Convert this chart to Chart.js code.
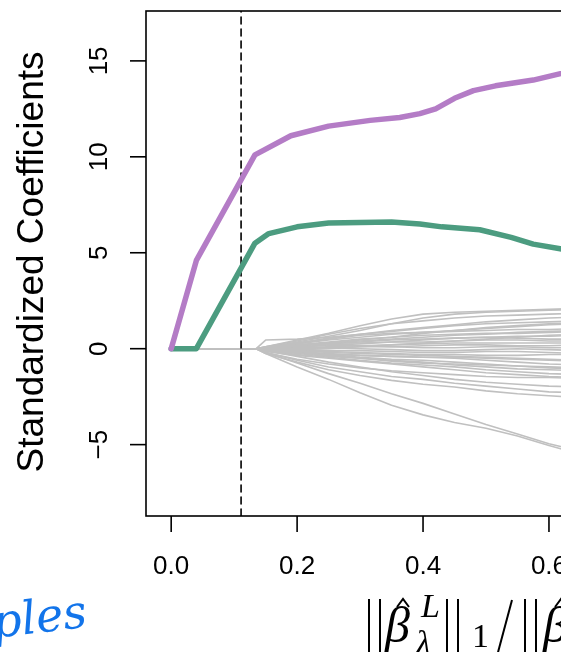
<!DOCTYPE html>
<html>
<head>
<meta charset="utf-8">
<script src="https://cdn.jsdelivr.net/npm/chart.js@4.4.1/dist/chart.umd.min.js"></script>
<style>
  html, body { margin: 0; padding: 0; background: #fff; }
  #wrap { position: relative; width: 561px; height: 652px; overflow: hidden; }
  #chart { position: absolute; left: 0; top: 0; }
</style>
</head>
<body>
<div id="wrap"><canvas id="chart" width="900" height="652"></canvas></div>
<script>
// x = ||beta_lambda||_1 / ||beta||_1
const xTicks = [0, 0.2, 0.4, 0.6, 0.8, 1.0];
const xTickLabels = ['0.0', '0.2', '0.4', '0.6', '0.8', '1.0'];
const yTicks = [-5, 0, 5, 10, 15];
const yTickLabels = ['\u22125', '0', '5', '10', '15'];
const cutoff = 0.111;

const purpleX = [0, 0.04, 0.133, 0.19, 0.25, 0.316, 0.363, 0.395, 0.42, 0.45, 0.48, 0.515, 0.575, 0.62, 0.66];
const purpleY = [0, 4.6, 10.1, 11.1, 11.6, 11.9, 12.05, 12.25, 12.5, 13.05, 13.45, 13.7, 14.0, 14.35, 14.7];

const greenX = [0, 0.04, 0.133, 0.155, 0.2, 0.25, 0.35, 0.395, 0.43, 0.49, 0.54, 0.575, 0.62, 0.66];
const greenY = [0, 0, 5.5, 6.0, 6.35, 6.55, 6.6, 6.5, 6.35, 6.2, 5.8, 5.45, 5.2, 5.0];

// the grey paths share the same knots
const grayX = [0, 0.135, 0.15, 0.2, 0.25, 0.3, 0.35, 0.4, 0.45, 0.5, 0.55, 0.6, 0.65];
const grayPaths = [
  [0, 0, 0.1, 0.45, 0.8, 1.2, 1.55, 1.8, 1.9, 1.95, 2.0, 2.05, 2.1],
  [0, 0, 0.05, 0.35, 0.65, 0.95, 1.3, 1.6, 1.8, 1.9, 1.95, 2.0, 2.05],
  [0, 0, 0.45, 0.5, 0.6, 0.75, 0.9, 1.05, 1.2, 1.3, 1.35, 1.4, 1.45],
  [0, 0, 0.05, 0.25, 0.45, 0.6, 0.75, 0.85, 0.95, 1.05, 1.15, 1.25, 1.3],
  [0, 0, 0.1, 0.3, 0.5, 0.7, 0.8, 0.85, 0.9, 0.95, 1.0, 1.0, 1.05],
  [0, 0, 0, 0.2, 0.35, 0.5, 0.6, 0.7, 0.75, 0.8, 0.8, 0.85, 0.9],
  [0, 0, 0.05, 0.15, 0.25, 0.35, 0.45, 0.5, 0.55, 0.6, 0.65, 0.65, 0.7],
  [0, 0, 0, 0.1, 0.2, 0.25, 0.35, 0.45, 0.55, 0.6, 0.55, 0.5, 0.5],
  [0, 0, 0.05, 0.2, 0.3, 0.3, 0.35, 0.35, 0.4, 0.45, 0.45, 0.4, 0.4],
  [0, 0, 0, 0.05, 0.1, 0.15, 0.2, 0.25, 0.3, 0.3, 0.3, 0.3, 0.3],
  [0, 0, 0, 0.1, 0.15, 0.15, 0.1, 0.15, 0.2, 0.2, 0.15, 0.15, 0.2],
  [0, 0, 0, 0.05, 0.05, 0.1, 0.1, 0.05, 0.05, 0.1, 0.1, 0.05, 0.05],
  [0, 0, 0, 0, 0.05, 0, -0.05, -0.1, -0.1, -0.05, 0, -0.05, -0.1],
  [0, 0, 0, -0.05, -0.1, -0.1, -0.15, -0.2, -0.2, -0.15, -0.15, -0.2, -0.25],
  [0, 0, -0.05, -0.1, -0.15, -0.2, -0.25, -0.3, -0.3, -0.35, -0.35, -0.3, -0.3],
  [0, 0, 0, -0.1, -0.2, -0.25, -0.3, -0.35, -0.4, -0.45, -0.5, -0.55, -0.6],
  [0, 0, -0.05, -0.15, -0.25, -0.35, -0.4, -0.45, -0.5, -0.6, -0.7, -0.8, -0.85],
  [0, 0, -0.1, -0.2, -0.3, -0.45, -0.55, -0.6, -0.7, -0.8, -0.9, -1.0, -1.05],
  [0, 0, -0.05, -0.2, -0.35, -0.5, -0.6, -0.7, -0.85, -0.95, -1.05, -1.1, -1.15],
  [0, 0, -0.1, -0.3, -0.45, -0.6, -0.75, -0.85, -0.95, -1.1, -1.2, -1.3, -1.35],
  [0, 0, -0.15, -0.35, -0.5, -0.65, -0.8, -0.95, -1.1, -1.25, -1.35, -1.45, -1.5],
  [0, 0, -0.2, -0.55, -0.8, -1.0, -1.15, -1.25, -1.35, -1.45, -1.5, -1.5, -1.55],
  [0, 0, -0.1, -0.4, -0.7, -0.95, -1.2, -1.4, -1.6, -1.75, -1.85, -1.95, -2.0],
  [0, 0, -0.2, -0.6, -0.95, -1.2, -1.45, -1.6, -1.8, -1.95, -2.1, -2.25, -2.3],
  [0, 0, -0.25, -0.7, -1.1, -1.4, -1.65, -1.85, -2.0, -2.2, -2.35, -2.45, -2.55],
  [0, 0, -0.2, -0.75, -1.3, -1.8, -2.35, -2.85, -3.4, -3.95, -4.45, -4.95, -5.35],
  [0, 0, -0.25, -0.95, -1.6, -2.3, -2.95, -3.45, -3.85, -4.15, -4.55, -5.05, -5.5],
  [0, 0, 0.1, 0.4, 0.75, 1.05, 1.3, 1.45, 1.6, 1.7, 1.75, 1.8, 1.85],
  [0, 0, 0.05, 0.3, 0.55, 0.75, 0.95, 1.1, 1.25, 1.4, 1.5, 1.6, 1.65],
  [0, 0, 0, 0.15, 0.3, 0.45, 0.6, 0.8, 0.95, 1.1, 1.2, 1.3, 1.35],
  [0, 0, -0.05, -0.05, 0, 0.1, 0.2, 0.3, 0.4, 0.5, 0.6, 0.7, 0.75],
  [0, 0, 0, -0.2, -0.3, -0.35, -0.4, -0.45, -0.45, -0.5, -0.55, -0.6, -0.65],
  [0, 0, -0.1, -0.25, -0.4, -0.5, -0.65, -0.75, -0.8, -0.85, -0.9, -0.95, -1.0],
  [0, 0, 0.05, 0.15, 0.3, 0.4, 0.5, 0.6, 0.7, 0.75, 0.85, 0.9, 0.95]
];

const X_MIN = -0.04, X_MAX = 1.04;
const Y_MIN = -8.72, Y_MAX = 17.6;

function pts(xs, ys) {
  return xs.map((x, i) => ({ x: x, y: ys[i] }));
}

const datasets = [];
datasets.push({
  data: pts(purpleX, purpleY), borderColor: '#b47cc6', borderWidth: 5.5, order: 0
});
datasets.push({
  data: pts(greenX, greenY), borderColor: '#4c9c80', borderWidth: 5.5, order: 1
});
datasets.push({
  data: [{ x: cutoff, y: Y_MIN }, { x: cutoff, y: Y_MAX }],
  borderColor: '#000', borderWidth: 1.6, borderDash: [7, 5], order: 2
});
grayPaths.forEach(p => {
  datasets.push({ data: pts(grayX, p), borderColor: '#c0c0c0', borderWidth: 1.6, order: 3 });
});

function bars(ctx, x) {
  ctx.beginPath();
  ctx.moveTo(x, 599); ctx.lineTo(x, 660);
  ctx.moveTo(x + 11, 599); ctx.lineTo(x + 11, 660);
  ctx.stroke();
}
function hat(ctx, x) {
  ctx.beginPath();
  ctx.moveTo(x - 6, 607); ctx.lineTo(x, 599); ctx.lineTo(x + 6, 607);
  ctx.stroke();
}

// box, R-style axes, labels and the note written on the slide
const decor = {
  id: 'decor',
  afterDraw(chart) {
    const ctx = chart.ctx;
    const a = chart.chartArea;
    const xs = chart.scales.x, ys = chart.scales.y;
    ctx.save();
    ctx.strokeStyle = '#000';
    ctx.lineWidth = 1.6;
    ctx.strokeRect(a.left, a.top, a.right - a.left, a.bottom - a.top);

    ctx.fillStyle = '#000';
    ctx.font = '26px "Liberation Sans", Arial, sans-serif';
    ctx.textAlign = 'center';
    ctx.textBaseline = 'middle';
    xTicks.forEach((v, i) => {
      const px = xs.getPixelForValue(v);
      ctx.beginPath();
      ctx.moveTo(px, a.bottom);
      ctx.lineTo(px, a.bottom + 16);
      ctx.stroke();
      ctx.fillText(xTickLabels[i], px, 567);
    });
    yTicks.forEach((v, i) => {
      const py = ys.getPixelForValue(v);
      ctx.beginPath();
      ctx.moveTo(a.left, py);
      ctx.lineTo(a.left - 16, py);
      ctx.stroke();
      ctx.save();
      ctx.translate(100, py);
      ctx.rotate(-Math.PI / 2);
      ctx.fillText(yTickLabels[i], 0, 0);
      ctx.restore();
    });

    ctx.save();
    ctx.translate(33, 262);
    ctx.rotate(-Math.PI / 2);
    ctx.font = '37px "Liberation Sans", Arial, sans-serif';
    ctx.fillText('Standardized Coefficients', 0, 0);
    ctx.restore();

    // x title: ||beta^L_lambda||_1 / ||beta||_1
    ctx.textAlign = 'left';
    ctx.textBaseline = 'alphabetic';
    const it = 'italic 50px "Liberation Serif", serif';
    const sm = '34px "Liberation Serif", serif';
    const smi = 'italic 34px "Liberation Serif", serif';
    const base = 642;
    ctx.lineWidth = 2;
    bars(ctx, 369);
    ctx.font = it; ctx.fillText('\u03B2', 385, base);
    hat(ctx, 403);
    ctx.font = smi; ctx.fillText('L', 421, 617);
    ctx.font = smi; ctx.fillText('\u03BB', 416, 654);
    bars(ctx, 447);
    ctx.font = sm; ctx.fillText('1', 472, 647);
    ctx.beginPath(); ctx.moveTo(512, 600); ctx.lineTo(497, 656); ctx.stroke();
    bars(ctx, 525);
    ctx.font = it; ctx.fillText('\u03B2', 543, base);
    hat(ctx, 561);

    // handwritten note
    ctx.save();
    ctx.translate(-6, 638);
    ctx.rotate(-0.12);
    ctx.font = 'italic 46px "DejaVu Serif", serif';
    ctx.fillStyle = '#1274ea';
    ctx.fillText('ples', 0, 0);
    ctx.restore();
    ctx.restore();
  }
};

new Chart(document.getElementById('chart').getContext('2d'), {
  type: 'scatter',
  data: { datasets: datasets },
  options: {
    responsive: false,
    animation: false,
    layout: { padding: { left: 146, top: 11, right: 900 - 826, bottom: 652 - 516 } },
    elements: {
      point: { radius: 0, hoverRadius: 0 },
      line: { tension: 0, borderJoinStyle: 'round', borderCapStyle: 'round' }
    },
    datasets: { scatter: { showLine: true, pointRadius: 0 } },
    scales: {
      x: { type: 'linear', min: X_MIN, max: X_MAX, display: false },
      y: { type: 'linear', min: Y_MIN, max: Y_MAX, display: false }
    },
    plugins: { legend: { display: false }, tooltip: { enabled: false } }
  },
  plugins: [decor]
});
</script>
</body>
</html>
